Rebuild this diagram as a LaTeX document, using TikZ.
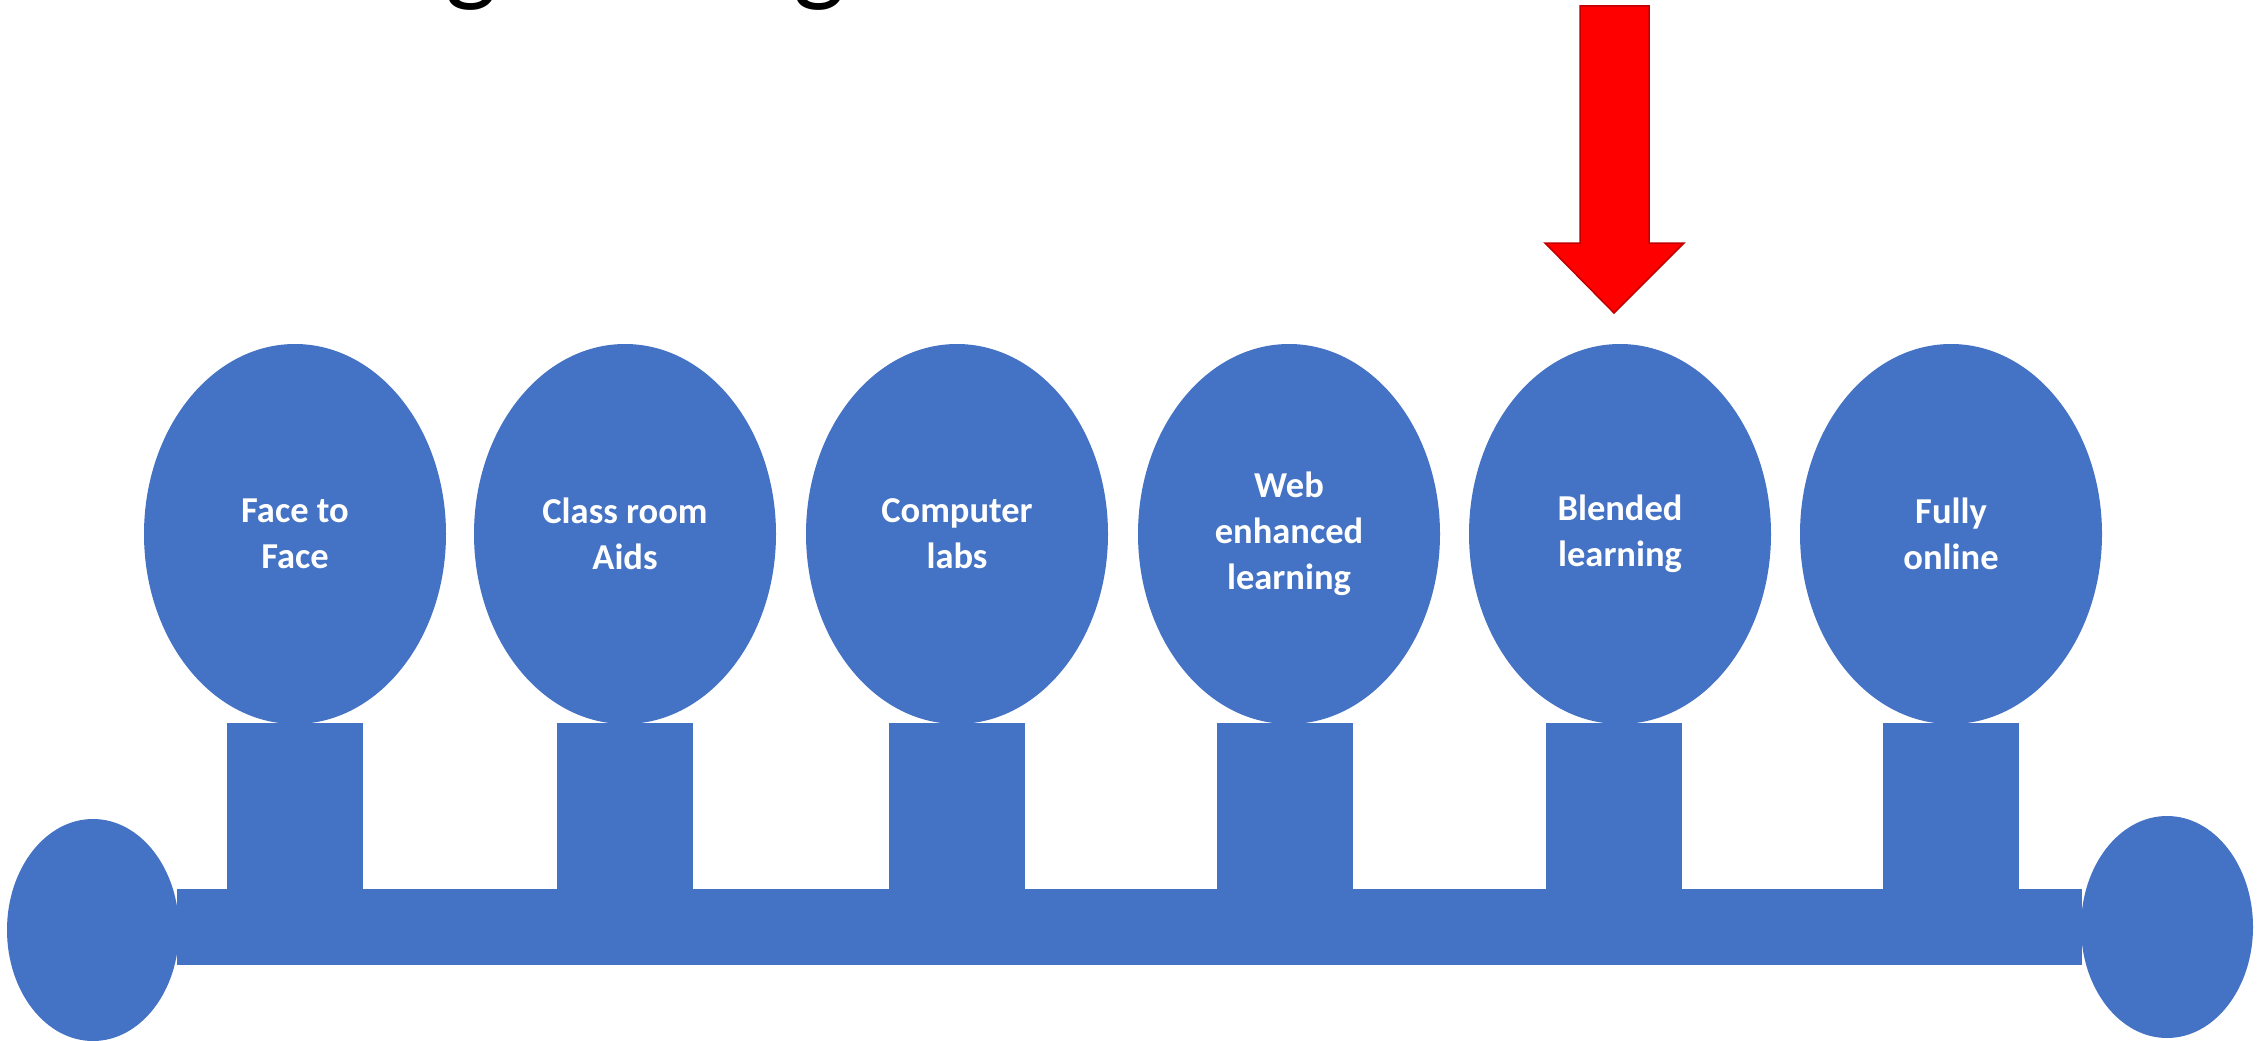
\documentclass[tikz,border=0pt]{standalone}
\usepackage{fontspec}
\setmainfont{Carlito}
\usetikzlibrary{shapes.geometric}
\definecolor{blu}{HTML}{4472C4}
\definecolor{arrowred}{HTML}{FF0000}
\definecolor{arrowedge}{HTML}{C00000}
\tikzset{
  pill/.style={ellipse, fill=blu, draw=none, inner sep=0pt,
    minimum width=302pt, minimum height=380pt,
    text=white, align=center,
    font=\fontsize{36.5}{46}\selectfont\bfseries},
  stemrect/.style={rectangle, fill=blu, draw=none, inner sep=0pt,
    minimum width=136pt, minimum height=166pt},
  endcap/.style={ellipse, fill=blu, draw=none, inner sep=0pt,
    minimum width=172pt, minimum height=222pt},
  titletxt/.style={anchor=base, inner sep=0pt, text=black,
    font=\fontsize{110}{130}\selectfont}
}
\begin{document}
\begin{tikzpicture}[x=1pt,y=-1pt]
\useasboundingbox (0,0) rectangle (2264,1041);
% partially visible title (only descenders show)
\node[titletxt] (g1) at (471,-8) {g};
\node[titletxt] (g2) at (819,-8) {g};
% bar and end caps
\node[rectangle, fill=blu, inner sep=0pt, minimum width=1905pt, minimum height=76pt] (bar) at (1129.5,927) {};
\node[endcap] (capL) at (93,930) {};
\node[endcap] (capR) at (2167,927) {};
% stems
\node[stemrect] (s1) at (295,806) {};
\node[stemrect] (s2) at (625,806) {};
\node[stemrect] (s3) at (957,806) {};
\node[stemrect] (s4) at (1285,806) {};
\node[stemrect] (s5) at (1614,806) {};
\node[stemrect] (s6) at (1951,806) {};
% ellipses
\node[pill] (e1) at (295,534) {Face to\\Face};
\node[pill] (e2) at (625,534) {Class room\\Aids};
\node[pill] (e3) at (957,534) {Computer\\labs};
\node[pill] (e4) at (1289,534) {Web\\enhanced\\learning};
\node[pill] (e5) at (1620,534) {Blended\\learning};
\node[pill] (e6) at (1951,534) {Fully\\online};
% red block arrow
\draw[fill=arrowred, draw=arrowedge, line width=1.5pt, line join=miter]
  (1580,6) -- (1649,6) -- (1649,243) -- (1684,243) -- (1614,313) -- (1545,243) -- (1580,243) -- cycle;
\end{tikzpicture}
\end{document}
